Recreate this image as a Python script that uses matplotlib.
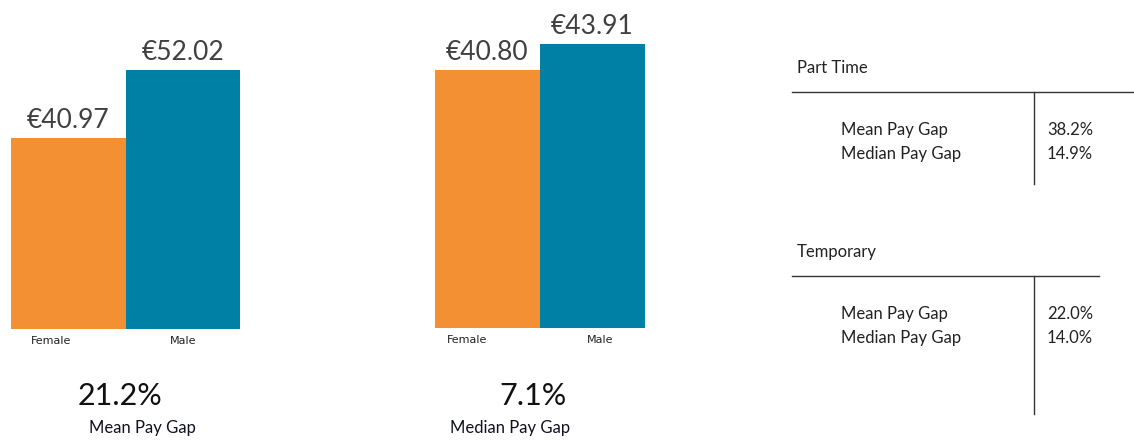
import matplotlib
matplotlib.use("Agg")
import matplotlib.pyplot as plt
from matplotlib.lines import Line2D
from matplotlib.transforms import ScaledTranslation

plt.rcParams['font.family'] = ['Lato', 'DejaVu Sans']

# data
genders = ['Female', 'Male']
mean_pay = [40.97, 52.02]
median_pay = [40.80, 43.91]
mean_gap = '21.2%'
median_gap = '7.1%'

part_time_labels = ['Mean Pay Gap', 'Median Pay Gap']
part_time_values = ['38.2%', '14.9%']
temporary_labels = ['Mean Pay Gap', 'Median Pay Gap']
temporary_values = ['22.0%', '14.0%']

colors = ['#F39033', '#0080A4']
W, H = 1134, 440


def px_axes(left, top, right, bottom):
    # axes from pixel box (origin top-left)
    return fig.add_axes([left / W, 1 - bottom / H, (right - left) / W,
                         (bottom - top) / H])


def bar_panel(ax, values, ymax, shifts):
    x = range(len(values))
    bars = ax.bar(x, values, width=1.0, color=colors, linewidth=0)
    ax.set_xlim(-0.5, len(values) - 0.5)
    ax.set_ylim(10, ymax)
    ax.set_xticks(list(x))
    ax.set_xticklabels(genders, fontsize=8, family=['DejaVu Sans'],
                       color='#222222')
    ax.tick_params(axis='x', length=0, pad=5)
    # excel puts the category labels a little off centre
    for lab, dx in zip(ax.get_xticklabels(), shifts):
        lab.set_transform(lab.get_transform() +
                          ScaledTranslation(dx / 100, 0, fig.dpi_scale_trans))
    ax.set_yticks([])
    for s in ax.spines.values():
        s.set_visible(False)
    for b, v in zip(bars, values):
        ax.annotate('€%.2f' % v, (b.get_x() + b.get_width() / 2, v),
                    xytext=(0, 4), textcoords='offset points',
                    ha='center', va='bottom', fontsize=19, color='#404040',
                    annotation_clip=False)


fig = plt.figure(figsize=(W / 100, H / 100), dpi=100)

ax1 = px_axes(11, 21, 240, 329)
bar_panel(ax1, mean_pay, 60, [-17, 0])
ax2 = px_axes(435, 27, 645, 328)
bar_panel(ax2, median_pay, 46, [-20, 8])

fig.text(120 / W, 1 - 396 / H, mean_gap, ha='center', va='center',
         fontsize=22, color='#111111')
fig.text(142 / W, 1 - 428 / H, 'Mean Pay Gap', ha='center', va='center',
         fontsize=12, color='#111122')
fig.text(533 / W, 1 - 396 / H, median_gap, ha='center', va='center',
         fontsize=22, color='#111111')
fig.text(510 / W, 1 - 428 / H, 'Median Pay Gap', ha='center', va='center',
         fontsize=12, color='#111122')

# right hand tables
axt = fig.add_axes([0, 0, 1, 1])
axt.set_xlim(0, W)
axt.set_ylim(H, 0)
axt.axis('off')


def table(title, labels, values, y0, line_right, vline_bottom):
    axt.text(797, y0, title, ha='left', va='center', fontsize=12,
             color='#222222')
    axt.add_line(Line2D([792, line_right], [y0 + 24, y0 + 24], color='#333333',
                        lw=1))
    axt.add_line(Line2D([1034, 1034], [y0 + 24, vline_bottom], color='#333333',
                        lw=1))
    for i, (lab, val) in enumerate(zip(labels, values)):
        y = y0 + 62 + i * 24
        axt.text(841, y, lab, ha='left', va='center', fontsize=12,
                 color='#222222')
        axt.text(1047, y, val, ha='left', va='center', fontsize=12,
                 color='#222222')


table('Part Time', part_time_labels, part_time_values, 68, 1134, 184)
table('Temporary', temporary_labels, temporary_values, 252, 1099, 414)

fig.savefig('out.png', dpi=100)
